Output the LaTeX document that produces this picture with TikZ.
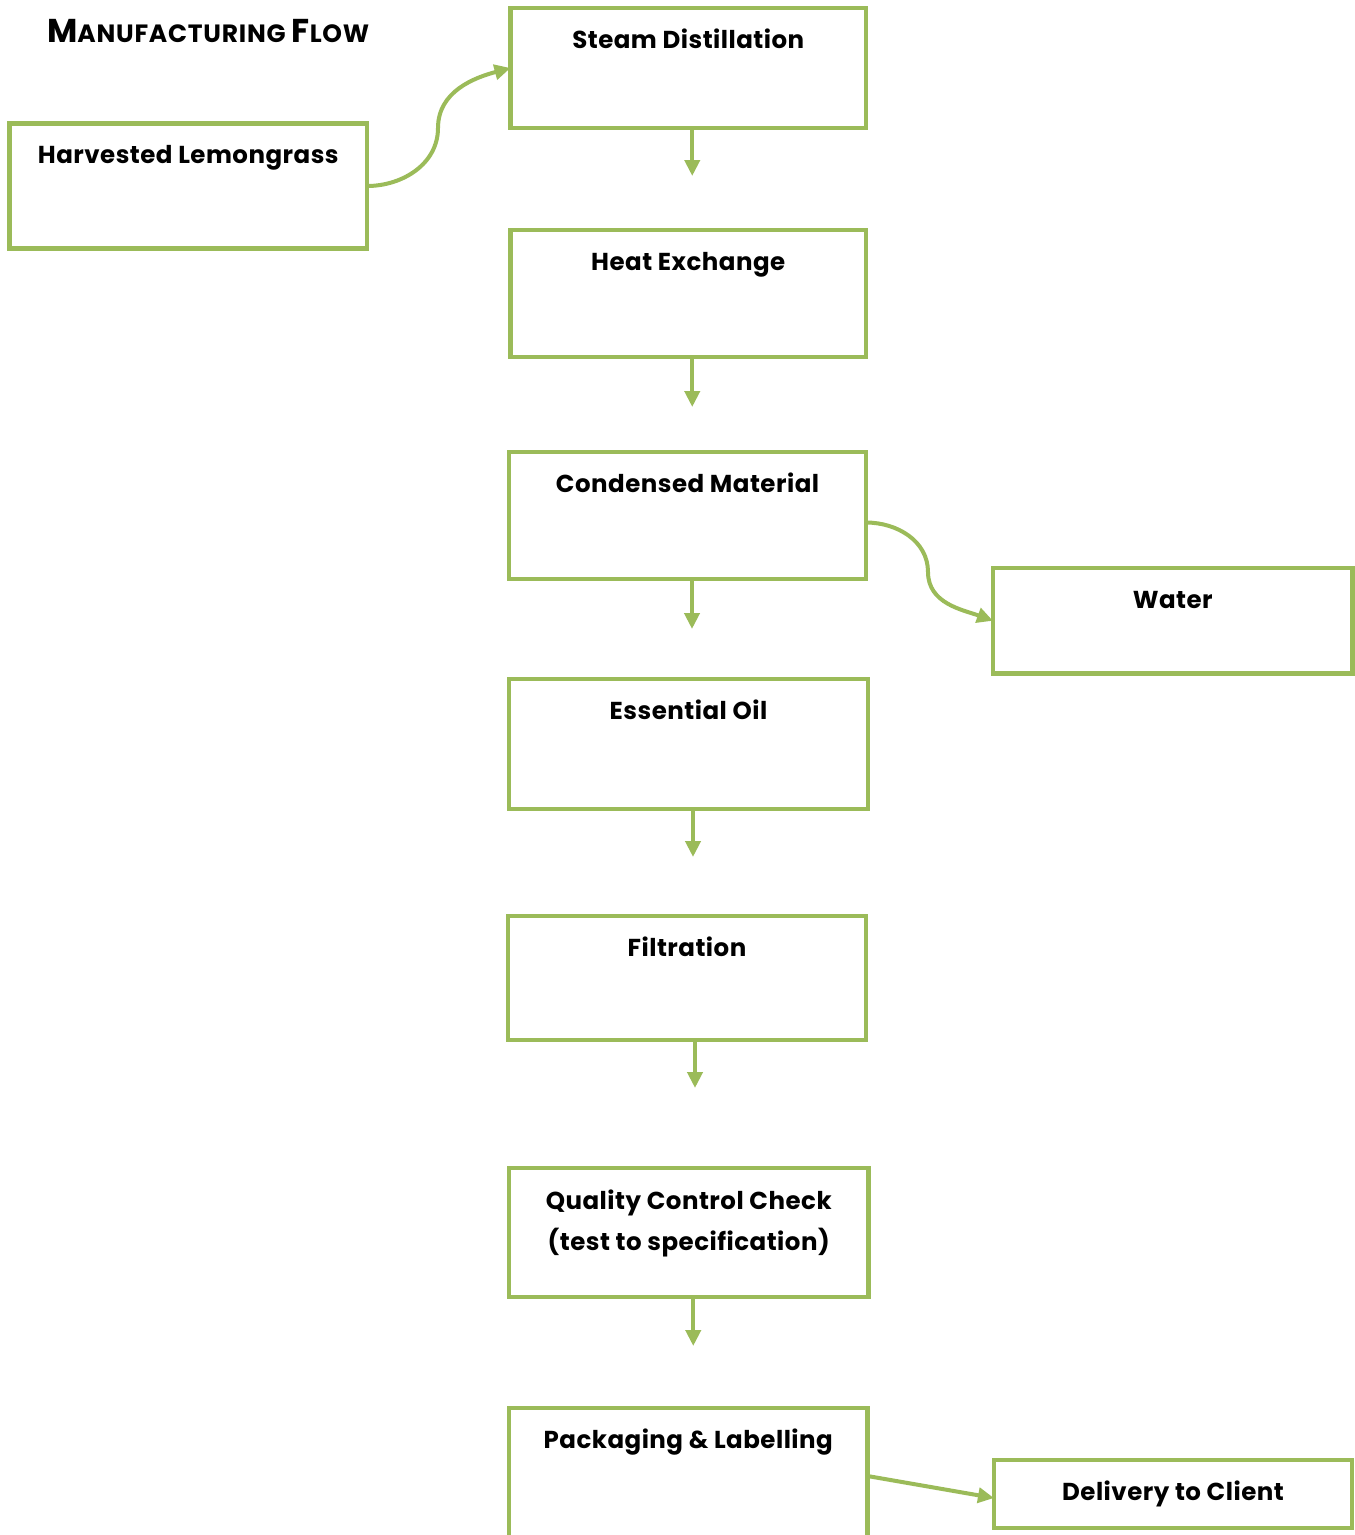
\documentclass[tikz,border=0pt]{standalone}
\usepackage{fontspec}
\setmainfont{Poppins}
\usetikzlibrary{arrows.meta}
\definecolor{leaf}{HTML}{9BBB59}
\tikzset{
  box/.style={draw=leaf, line width=4.5pt, inner sep=0pt, outer sep=0pt, anchor=north west, fill=white},
  lbl/.style={font=\bfseries\fontsize{24.5}{41}\selectfont\addfontfeature{LetterSpace=2}, anchor=base, align=center, inner sep=0pt, text=black},
  conn/.style={draw=leaf, line width=4pt, -{Triangle[width=15pt,length=16pt]}},
}
\newcommand\flowbox[7][40]{%
  \node[box, minimum width=#5-#3, minimum height=#6-#4] (#2) at (#3,-#4) {};
  \node[lbl] (#2t) at ([yshift=-#1pt]#2.north) {#7};
}
\begin{document}
\begin{tikzpicture}[x=1pt,y=1pt]
\clip (0,0) rectangle (1355,-1535);
\fill[white] (0,0) rectangle (1355,-1535);

\node[anchor=base west, inner sep=0pt, font=\bfseries\addfontfeature{LetterSpace=3}] (title) at (47,-42)
  {{\fontsize{33}{33}\selectfont M}{\fontsize{25}{25}\selectfont ANUFACTURING }{\fontsize{33}{33}\selectfont F}{\fontsize{25}{25}\selectfont LOW}};

\flowbox{harv}{9.5}{123.5}{367}{248.5}{Harvested Lemongrass}
\flowbox{steam}{510.5}{8}{866}{128}{Steam Distillation}
\flowbox{heat}{510.5}{230}{866}{357}{Heat Exchange}
\flowbox{cond}{509}{452}{866}{579}{Condensed Material}
\flowbox{water}{993}{568}{1352.5}{673.5}{Water}
\flowbox{ess}{509}{679}{868}{809}{Essential Oil}
\flowbox{filt}{508}{916}{866}{1040}{Filtration}
\flowbox[82]{qual}{509}{1168}{868.5}{1297}{Quality Control Check\\(test to specification)}
\flowbox{pack}{509}{1408}{867.5}{1544}{Packaging \& Labelling}
\flowbox{deliv}{994}{1460}{1352}{1528}{Delivery to Client}

\coordinate (m1) at (438,-128);
\coordinate (m2) at (928,-572);

\draw[conn] (harv.east) to[out=0,in=-90] (m1) to[out=90,in=195] (steam.west);
\draw[conn] ([yshift=-7pt]cond.east) to[out=0,in=90] (m2) to[out=-90,in=160] (water.west);
\draw[conn] (pack.east) -- ([yshift=-4pt]deliv.west);

\draw[conn] ([xshift=4pt]steam.south) -- ++(0,-48);
\draw[conn] ([xshift=4pt]heat.south) -- ++(0,-50);
\draw[conn] ([xshift=4.5pt]cond.south) -- ++(0,-50);
\draw[conn] ([xshift=4.5pt]ess.south) -- ++(0,-48);
\draw[conn] ([xshift=8pt]filt.south) -- ++(0,-48);
\draw[conn] ([xshift=4.5pt]qual.south) -- ++(0,-49);
\end{tikzpicture}
\end{document}
